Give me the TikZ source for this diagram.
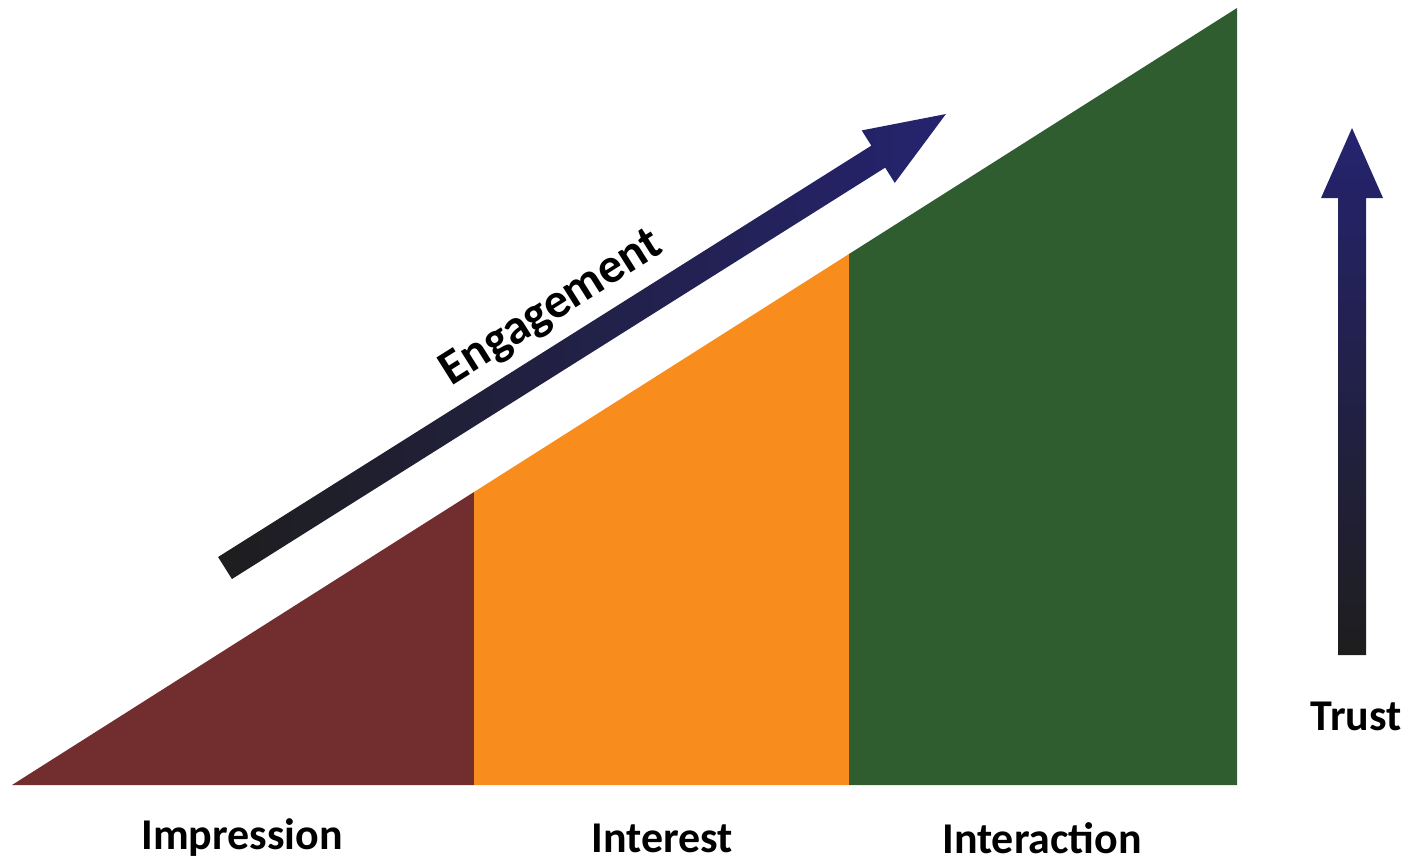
\documentclass[tikz,border=0pt]{standalone}
\usepackage{fontspec}
\setmainfont{Carlito}
\definecolor{stageone}{HTML}{722E2F}
\definecolor{stagetwo}{HTML}{F88D1E}
\definecolor{stagethree}{HTML}{2F5D30}
\definecolor{arrowdark}{HTML}{1E1E1E}
\definecolor{arrowmid}{HTML}{2A2A55}
\definecolor{arrowblue}{HTML}{25236F}

\begin{document}
\begin{tikzpicture}[x=0.01cm,y=-0.01cm,
                    label node/.style={font=\fontsize{12.5}{15}\selectfont\bfseries},
                    eng label/.style={font=\fontsize{14}{16}\selectfont\bfseries,rotate=32.2}]

        \useasboundingbox (0,0) rectangle (1407,863);

        % Define corners of the ramp
        \coordinate (O) at (12,785);
        \coordinate (A) at (474,785);
        \coordinate (At) at (474,492);
        \coordinate (B) at (849,785);
        \coordinate (Bt) at (849,254);
        \coordinate (C) at (1237,785);
        \coordinate (Ct) at (1237,8);

        % Draw stages
        \fill[stageone] (O) -- (At) -- (A) -- cycle;
        \fill[stagetwo] (A) -- (At) -- (Bt) -- (B) -- cycle;
        \fill[stagethree] (B) -- (Bt) -- (Ct) -- (C) -- cycle;

        % Engagement arrow
        \coordinate (e0) at (225,568);
        \coordinate (e1) at (948,115);
        \begin{scope}[shift={(e0)},x=0.01cm,y=0.01cm,rotate=32.2]
            \shade[left color=arrowdark,middle color=arrowmid,right color=arrowblue]
                (0,-13) -- (772,-13) -- (772,-31) -- (852,0) -- (772,31) -- (772,13) -- (0,13) -- cycle;
        \end{scope}
        \node[eng label] (eng) at (552,309) {Engagement};

        % Trust arrow
        \coordinate (t0) at (1352,655);
        \coordinate (t1) at (1352,128);
        \begin{scope}[shift={(t0)},x=0.01cm,y=0.01cm]
            \shade[bottom color=arrowdark,middle color=arrowmid,top color=arrowblue]
                (-14,0) -- (-14,457) -- (-31,457) -- (0,527) -- (31,457) -- (14,457) -- (14,0) -- cycle;
        \end{scope}
        \node[label node] (trust) at (1356,716) {Trust};

        % Stage names
        \node[label node] (imp) at (242,838) {Impression};
        \node[label node] (int) at (662,838) {Interest};
        \node[label node] (act) at (1042,838) {Interaction};
\end{tikzpicture}
\end{document}
